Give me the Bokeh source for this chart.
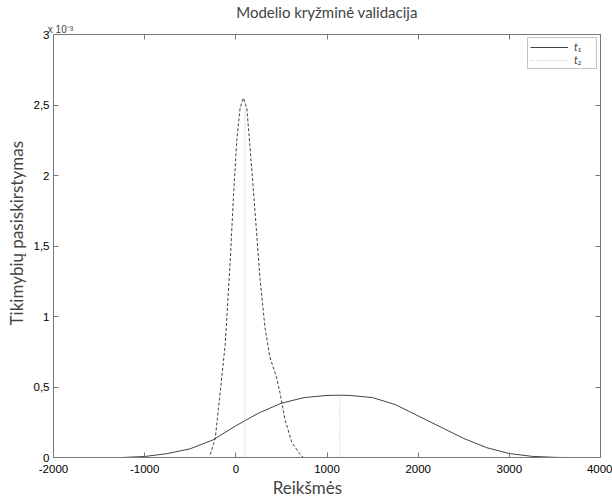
from bokeh.plotting import figure
from bokeh.models import Range1d, LinearAxis, FixedTicker, Legend, LegendItem
from bokeh.embed import file_html
from bokeh.resources import INLINE

# ---- data (y values in units of 1e-3, as displayed) ----
t1_x = [-1250, -1000, -750, -500, -250, 0, 250, 500, 750, 1000, 1130, 1250, 1500,
        1750, 2000, 2250, 2500, 2750, 3000, 3250, 3500, 3650]
t1_y = [0.0, 0.007, 0.028, 0.062, 0.125, 0.225, 0.315, 0.385, 0.425, 0.440, 0.442,
        0.440, 0.425, 0.375, 0.295, 0.215, 0.135, 0.070, 0.028, 0.008, 0.001, 0.0]

t2_x = [-280, -225, -172, -117, -62, -26, 10, 47, 83, 120, 156, 211, 265, 320, 374,
        446, 484, 539, 612, 685, 740]
t2_y = [0.02, 0.14, 0.46, 0.80, 1.39, 1.85, 2.25, 2.48, 2.55, 2.48, 2.20, 1.74, 1.27,
        0.92, 0.71, 0.57, 0.46, 0.27, 0.11, 0.04, 0.0]

mean_x = [100, 1140]
mean_top = [2.55, 0.442]

x_ticks = [-2000, -1000, 0, 1000, 2000, 3000, 4000]
x_tick_labels = ["-2000", "-1000", "0", "1000", "2000", "3000", "4000"]
y_ticks = [0, 0.5, 1, 1.5, 2, 2.5, 3]
y_tick_labels = ["0", "0,5", "1", "1,5", "2", "2,5", "3"]

title_text = "Modelio kryžminė validacija"
multiplier_text = "x 10\u207b\u00b3"
x_label = "Reikšmės"
y_label = "Tikimybių pasiskirstymas"
legend_labels = ["t\u2081", "t\u2082"]

TICK_FONT = "Liberation Sans"
TEXT_FONT = "Lato"
AX_COLOR = "#777777"
NBSP = "\u00a0"

p = figure(width=612, height=500, x_range=Range1d(-2000, 4000), y_range=Range1d(0, 3),
           output_backend="svg", toolbar_location=None,
           min_border_left=53, min_border_right=12, min_border_top=32, min_border_bottom=38)
p.grid.visible = False
p.outline_line_color = None
p.background_fill_color = "white"
p.border_fill_color = "white"

p.title.text = title_text
p.title.align = "center"
p.title.text_font = TEXT_FONT
p.title.text_font_size = "15px"
p.title.text_font_style = "normal"
p.title.standoff = 0
p.title.text_line_height = 1.0


def style_axis(ax):
    ax.axis_line_color = AX_COLOR
    ax.major_tick_line_color = AX_COLOR
    ax.major_tick_in = 5
    ax.major_tick_out = 0
    ax.minor_tick_line_color = None
    ax.major_label_text_font = TICK_FONT
    ax.major_label_text_font_size = "11.5px"
    ax.major_label_text_color = "black"
    ax.major_label_standoff = 4


xa = p.xaxis[0]
ya = p.yaxis[0]
xa.ticker = FixedTicker(ticks=x_ticks)
ya.ticker = FixedTicker(ticks=y_ticks)
xa.major_label_overrides = {v: s for v, s in zip(x_ticks, x_tick_labels)}
ya.major_label_overrides = {v: s for v, s in zip(y_ticks, y_tick_labels)}
style_axis(xa)
style_axis(ya)
xa.major_label_standoff = 7
# padding with no-break spaces shifts the centred labels to where the reference has them
xa.axis_label = x_label + NBSP * 9
ya.axis_label = NBSP * 6 + y_label
for ax in (xa, ya):
    ax.axis_label_text_font = TEXT_FONT
    ax.axis_label_text_font_size = "17px"
    ax.axis_label_text_font_style = "normal"
    ax.axis_label_standoff = 4
xa.axis_label_standoff = 1

top = LinearAxis(ticker=FixedTicker(ticks=x_ticks))
right = LinearAxis(ticker=FixedTicker(ticks=y_ticks))
style_axis(top)
style_axis(right)
top.major_label_overrides = {v: "" for v in x_ticks}
right.major_label_overrides = {v: "" for v in y_ticks}
top.major_label_text_font_size = "1px"
right.major_label_text_font_size = "1px"
top.major_label_standoff = 0
right.major_label_standoff = 0
top.axis_label = NBSP * 5 + multiplier_text
top.axis_label_align = "start"
top.axis_label_standoff = 0
top.axis_label_text_font = TICK_FONT
top.axis_label_text_font_size = "10px"
top.axis_label_text_font_style = "normal"
top.axis_label_text_line_height = 1.0
p.add_layout(top, "above")
p.add_layout(right, "right")

# curves
r1 = p.line(t1_x, t1_y, line_color="#111111", line_width=0.8)
r2 = p.line(t2_x, t2_y, line_color="#111111", line_width=0.8, line_dash="3 2")
rm = p.segment(x0=mean_x, y0=[0, 0], x1=mean_x, y1=mean_top,
               line_color="#bbbbbb", line_width=1, line_dash="1 2")

legend = Legend(items=[LegendItem(label=legend_labels[0], renderers=[r1]),
                       LegendItem(label=legend_labels[1], renderers=[rm])],
                location="top_right", margin=3, padding=2, spacing=0,
                glyph_width=38, glyph_height=12, label_height=12, label_standoff=6,
                label_text_font=TEXT_FONT, label_text_font_style="italic",
                label_text_font_size="11px", border_line_color="#888888",
                border_line_width=1, background_fill_alpha=1)
p.add_layout(legend)

open("out.html", "w").write(file_html(p, INLINE))
